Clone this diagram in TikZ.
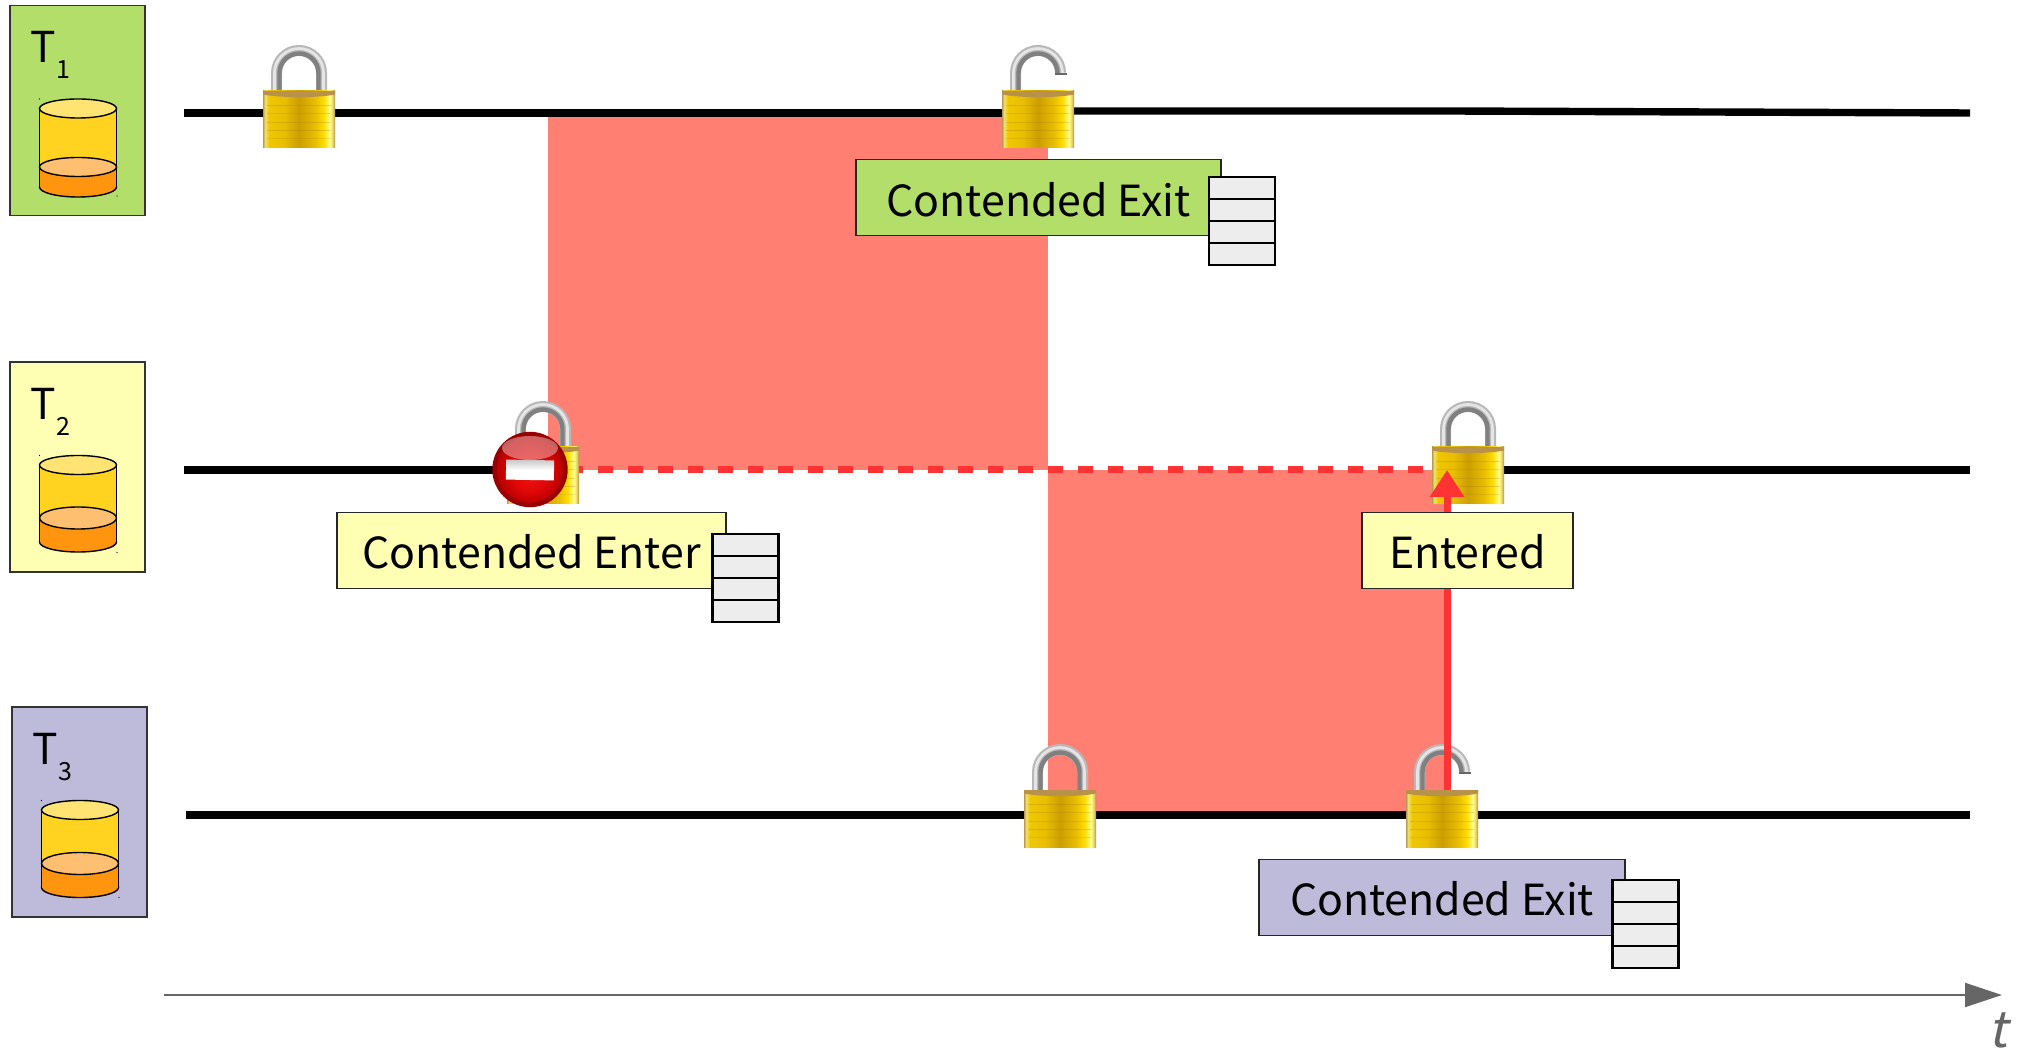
\documentclass[tikz,border=0pt]{standalone}
\usepackage{fontspec}
\setmainfont{Noto Sans CJK SC}
\newfontfamily\tfont[FakeSlant=0.22]{Noto Sans CJK SC}
\usetikzlibrary{arrows.meta,shadings}
\definecolor{cgreen}{HTML}{B3DE69}
\definecolor{cyellow}{HTML}{FFFFB3}
\definecolor{cpurple}{HTML}{BEBADA}
\definecolor{csalmon}{HTML}{FF8072}
\definecolor{cred}{HTML}{FF3333}
\definecolor{liqbody}{HTML}{FF950E}
\definecolor{liqtop}{HTML}{FFBF70}
\definecolor{jarbody}{HTML}{FFD320}
\definecolor{jartop}{HTML}{FFE373}
\definecolor{bandb}{HTML}{A07C20}
\definecolor{bandc}{HTML}{B8924A}
\definecolor{ringred}{HTML}{990000}
\definecolor{ga}{HTML}{B89A50}
\definecolor{gb}{HTML}{F2E070}
\definecolor{gc}{HTML}{F0C800}
\definecolor{gd}{HTML}{E8BE00}
\definecolor{ge}{HTML}{CC9E00}
\definecolor{gf}{HTML}{FFDC00}
\definecolor{gg}{HTML}{FFFF90}
\definecolor{gh}{HTML}{E8D060}
\definecolor{gi}{HTML}{A88A40}
\definecolor{ra}{HTML}{F01010}
\definecolor{rb}{HTML}{E00808}
\definecolor{rc}{HTML}{C00000}
\definecolor{rd}{HTML}{B00000}
\pgfdeclarehorizontalshading{lockgold}{100bp}{
  color(0bp)=(ga); color(25bp)=(ga); color(26.5bp)=(gb); color(29bp)=(gc); color(40bp)=(gd);
  color(50bp)=(ge); color(61bp)=(gd); color(67bp)=(gf); color(71.5bp)=(gg); color(73.5bp)=(gh); color(75bp)=(gi); color(100bp)=(gi)}
\pgfdeclareradialshading{stopred}{\pgfpoint{0bp}{-6bp}}{
  color(0bp)=(ra); color(12bp)=(rb); color(22bp)=(rc); color(25bp)=(rd)}
\tikzset{
  x=0.5pt,y=-0.5pt,
  tline/.style={line width=3.7pt,black},
  lockbody/.style={rectangle,minimum width=36pt,minimum height=28.5pt,inner sep=0pt,shading=lockgold},
  shacklebase/.style={line width=5.5pt,color=#1},
  tag/.style={rectangle,draw=black!85,line width=0.8pt,inner sep=0pt,minimum height=38pt,text height=18.4pt,text depth=0pt,font=\fontsize{21.4}{25}\selectfont},
  cell/.style={rectangle,draw=black,line width=1.3pt,fill=black!7,minimum width=33pt,minimum height=11pt,inner sep=0pt},
  threadbox/.style={rectangle,draw=black!80,line width=0.7pt,minimum width=67.5pt,minimum height=105pt,inner sep=0pt},
  cyl/.style={draw=black,line width=0.7pt},
  speck/.style={fill=black},
  pics/lockcommon/.style={code={
    \node[lockbody] (-body) at (0,0) {};
    \fill[bandc] (-36,-28.5) -- (36,-28.5) -- (36,-25)
       .. controls (20,-21.5) and (-20,-21.5) .. (-36,-25) -- cycle;
    \foreach \yy/\op in {-14/.3,-6/.25,3/.25,11/.3,19/.2}
      \draw[bandb,line width=.3pt,opacity=\op] (-32,\yy) -- (32,\yy);
  }},
  pics/closedlock/.style={code={
    \draw[shacklebase=black!28] (-22.5,-28.5) -- (-22.5,-46.5) arc[start angle=180,end angle=360,radius=22.5] -- (22.5,-28.5);
    \draw[line width=2.2pt,black!50] (-19.5,-28.5) -- (-19.5,-46.5) arc[start angle=180,end angle=360,radius=19.5] -- (19.5,-28.5);
    \draw[line width=1.4pt,black!10] (-24.5,-28.5) -- (-24.5,-46.5) arc[start angle=180,end angle=360,radius=24.5] -- (24.5,-28.5);
    \pic (-) at (0,0) {lockcommon};
  }},
  pics/openlock/.style={code={
    \draw[shacklebase=black!28] (-22.5,-28.5) -- (-22.5,-46.5) arc[start angle=180,end angle=360,radius=22.5];
    \draw[line width=2.2pt,black!50] (-19.5,-28.5) -- (-19.5,-46.5) arc[start angle=180,end angle=360,radius=19.5];
    \draw[line width=1.4pt,black!10] (-24.5,-28.5) -- (-24.5,-46.5) arc[start angle=180,end angle=360,radius=24.5];
    \draw[line width=1.2pt,black!60] (17,-45.5) -- (28.5,-45.5);
    \pic (-) at (0,0) {lockcommon};
  }},
  pics/thread/.style n args={5}{code={
    \node[threadbox,fill=#1] (-box) at (77.5,110.5) {};
    \node[anchor=base west,inner sep=0pt,font=\fontsize{21.3}{24}\selectfont] (-name) at (30,63) {T};
    \node[anchor=base west,inner sep=0pt,font=\fontsize{12.5}{15}\selectfont] (-sub) at (56,79) {#2};
    \filldraw[cyl,fill=liqbody] (78,#5) ellipse [x radius=38.5,y radius=10];
    \fill[liqbody] (39.5,#3) rectangle (116.5,#5);
    \fill[jarbody] (39.5,108.5) rectangle (116.5,#3);
    \draw[cyl] (39.5,108.5) -- (39.5,#5) (116.5,108.5) -- (116.5,#5);
    \filldraw[cyl,fill=liqtop] (78,#3) ellipse [x radius=38.5,y radius=#4];
    \filldraw[cyl,fill=jartop] (78,108.5) ellipse [x radius=38.5,y radius=9.5];
    \fill[speck] (39.5,99) circle[radius=.7] (39.5,157) circle[radius=.7] (117,196) circle[radius=.7];
  }},
  pics/cellstack/.style={code={
    \foreach \i in {1,2,3,4}
      \node[cell] (-c\i) at (0,{(\i-2.5)*22}) {};
  }},
}
\begin{document}
\begin{tikzpicture}
\useasboundingbox (0,0) rectangle (2022,1052);
% overlap regions
\fill[csalmon] (548,113) rectangle (1048,470);
\fill[csalmon] (1048,470) rectangle (1448,815);
% thread boxes
\pic (th1) at (0,0) {thread={cgreen}{1}{167}{9.5}{187}};
\pic (th2) at (0,356.5) {thread={cyellow}{2}{161.5}{11}{185.5}};
\pic (th3) at (2,701.5) {thread={cpurple}{3}{162}{11}{186}};
% free ends
\coordinate (a1) at (184,113);
\coordinate (b1) at (1970,113);
\coordinate (b1m) at (1450,111);
\coordinate (a2) at (184,470);
\coordinate (b2) at (1970,470);
\coordinate (a3) at (186,815);
\coordinate (b3) at (1970,815);
\coordinate (ax0) at (164,995);
\coordinate (ax1) at (2002,995);
% locks
\draw[tline] (a1) -- (1040,113);
\draw[tline] (1040,111) -- (b1m) -- (b1);
\draw[tline] (a2) -- (543,470);
\draw[tline] (1468,470) -- (b2);
\draw[tline] (a3) -- (b3);
\pic (l1) at (299,119.5) {closedlock};
\pic (l2) at (1038,119.5) {openlock};
\pic (l3) at (543,475.5) {closedlock};
\pic (l4) at (1468,475.5) {closedlock};
\pic (l5) at (1060,818.5) {closedlock};
\pic (l6) at (1442,818.5) {openlock};
% wait and hand-over
\draw[cred,line width=3.5pt,dash pattern=on 7.5pt off 7.5pt,dash phase=5.5pt] (l3--body.east |- a2) -- (l4--body.west |- a2);
\coordinate (upstart) at (1447,790);
\coordinate (uptip) at (1447,470);
\draw[cred,line width=3.5pt,-{Triangle[length=13.5pt,width=16.5pt]}] (upstart) -- (uptip);
\draw[black!60,line width=1pt,-{Triangle[length=18.5pt,width=12pt]}] (ax0) -- (ax1);
\node[anchor=base,inner sep=0pt,text=black!60,font=\fontsize{25}{28}\tfont] (tlab) at (1998,1047) {t};
% labels
\node[tag,fill=cgreen,minimum width=182.5pt] (exit1) at (1038.5,197.7) {Contended Exit};
\node[tag,fill=cyellow,minimum width=194.5pt] (enter) at (531.5,550.5) {Contended Enter};
\node[tag,fill=cyellow,minimum width=105.5pt] (entered) at (1467.5,550.5) {Entered};
\node[tag,fill=cpurple,minimum width=183pt] (exit3) at (1442,897.5) {Contended Exit};
\pic (s1) at (1242,221) {cellstack};
\pic (s2) at (745.5,578) {cellstack};
\pic (s3) at (1645.5,924) {cellstack};
% stop sign
\node[circle,minimum size=35.5pt,inner sep=0pt,draw=ringred,line width=2.2pt,shading=stopred] (stop) at (530,469.5) {};
\fill[white,opacity=.38] (530,448) ellipse[x radius=28,y radius=12];
\shade[top color=black!22,bottom color=white,middle color=white,rotate around={-1:(530,470)}] (506,460) rectangle (554,480);
\end{tikzpicture}
\end{document}
